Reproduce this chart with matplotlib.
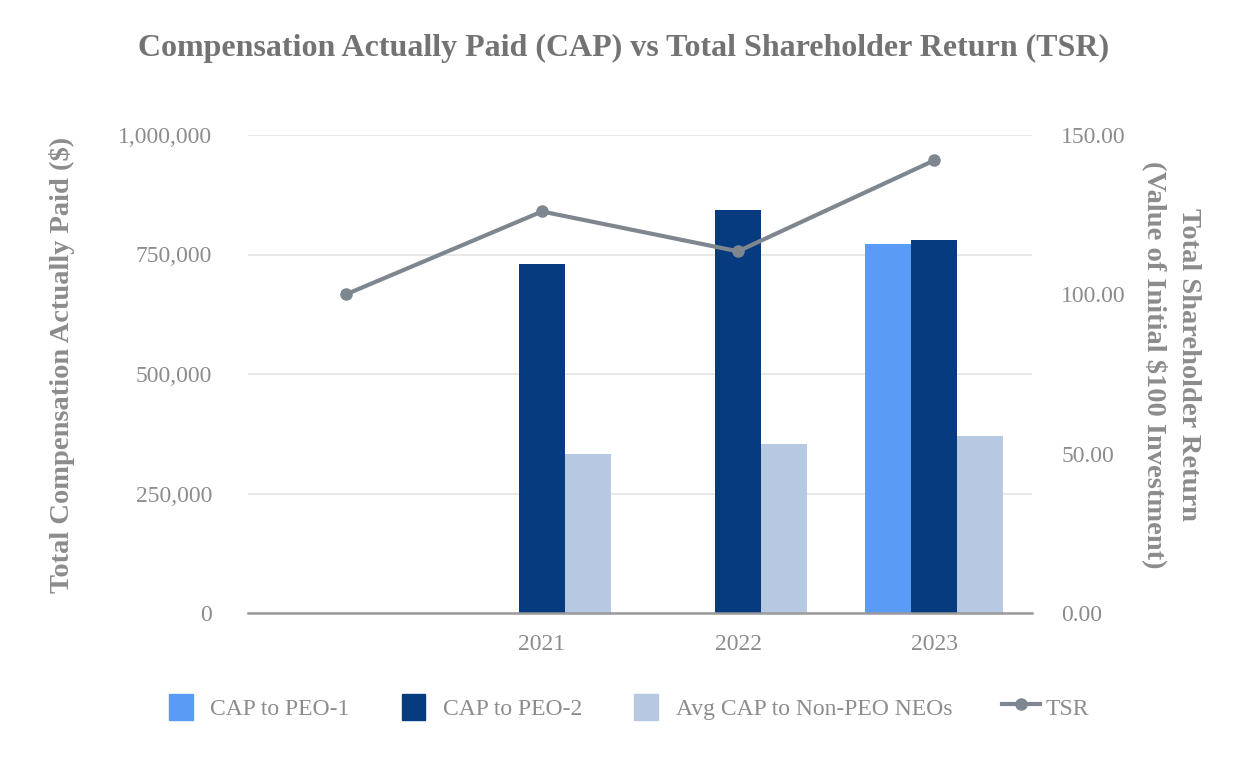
import numpy as np
import matplotlib.pyplot as plt
from matplotlib.lines import Line2D
from matplotlib.patches import Patch
from matplotlib.legend_handler import HandlerLine2D
from matplotlib.ticker import FuncFormatter

plt.rcParams['font.family'] = ['Liberation Serif', 'DejaVu Serif']

# data
years = ["", "2021", "2022", "2023"]
cap_peo1 = [np.nan, np.nan, np.nan, 772000]
cap_peo2 = [np.nan, 730000, 843000, 780000]
cap_non_peo = [np.nan, 332000, 353000, 370000]
tsr = [100.0, 126.0, 113.5, 142.0]

c_peo1 = '#5A9CF5'
c_peo2 = '#073B80'
c_non = '#B6C8E2'
c_tsr = '#7E878F'
c_text = '#8C8C8C'


# longer line sample for TSR in legend, sits closer to its text
class WideLine(HandlerLine2D):
    def create_artists(self, legend, orig_handle, xdescent, ydescent, width, height, fontsize, trans):
        return super().create_artists(legend, orig_handle, xdescent + width * 0.07, ydescent,
                                      width * 1.6, height, fontsize, trans)


fig = plt.figure(figsize=(12.48, 7.6), dpi=100)
ax = fig.add_axes([248/1248, 1-613/760, (1032-248)/1248, (613-135)/760])

x = np.arange(len(years))
w = 0.235
ax.bar(x - w, cap_peo1, w, color=c_peo1, zorder=2)
ax.bar(x, cap_peo2, w, color=c_peo2, zorder=2)
ax.bar(x + w, cap_non_peo, w, color=c_non, zorder=2)

ax.set_xlim(-0.5, 3.5)
ax.set_ylim(0, 1000000)
ax.set_yticks([0, 250000, 500000, 750000, 1000000])
ax.yaxis.set_major_formatter(FuncFormatter(lambda v, p: f"{int(v):,}"))
ax.set_xticks(x)
ax.set_xticklabels(years)
ax.grid(axis='y', color='#E4E4E4', linewidth=1.2, zorder=0)
for s in ['top', 'right', 'left']:
    ax.spines[s].set_visible(False)
ax.spines['bottom'].set_color('#9A9A9A')
ax.spines['bottom'].set_linewidth(1.8)
ax.spines['bottom'].set_zorder(3)
ax.tick_params(axis='both', length=0, labelsize=17, labelcolor=c_text)
ax.tick_params(axis='x', pad=15)
ax.tick_params(axis='y', pad=26)
ax.set_ylabel("Total Compensation Actually Paid ($)", fontsize=20.5, fontweight='bold',
              color=c_text, labelpad=31)
ax.yaxis.label.set_y(0.52)

ax2 = ax.twinx()
ax2.plot(x, tsr, color=c_tsr, linewidth=3, marker='o', markersize=8, zorder=4)
ax2.set_ylim(0, 150)
ax2.set_yticks([0, 50, 100, 150])
ax2.yaxis.set_major_formatter(FuncFormatter(lambda v, p: f"{v:.2f}"))
for s in ['top', 'right', 'left', 'bottom']:
    ax2.spines[s].set_visible(False)
ax2.tick_params(axis='y', length=0, labelsize=17, labelcolor=c_text, pad=21)
ax2.set_ylabel("Total Shareholder Return\n(Value of Initial $100 Investment)", fontsize=20.5,
               fontweight='bold', color=c_text, rotation=270, labelpad=54, linespacing=1.4)
ax2.yaxis.label.set_y(0.52)

fig.suptitle("Compensation Actually Paid (CAP) vs Total Shareholder Return (TSR)",
             x=0.5, y=0.955, fontsize=23, fontweight='bold', color='#737373')

handles = [Patch(color=c_peo1), Patch(color=c_peo2), Patch(color=c_non),
           Line2D([0], [0], color=c_tsr, linewidth=3, marker='o', markersize=8)]
labels = ["CAP to PEO-1", "CAP to PEO-2", "Avg CAP to Non-PEO NEOs", "TSR"]
fig.legend(handles, labels, loc='center', bbox_to_anchor=(0.504, 0.07), ncol=4,
           frameon=False, fontsize=17, labelcolor=c_text, columnspacing=2.2,
           handlelength=1.0, handleheight=1.3, handletextpad=0.75,
           handler_map={handles[3]: WideLine()})

fig.savefig("out.png", dpi=100)
